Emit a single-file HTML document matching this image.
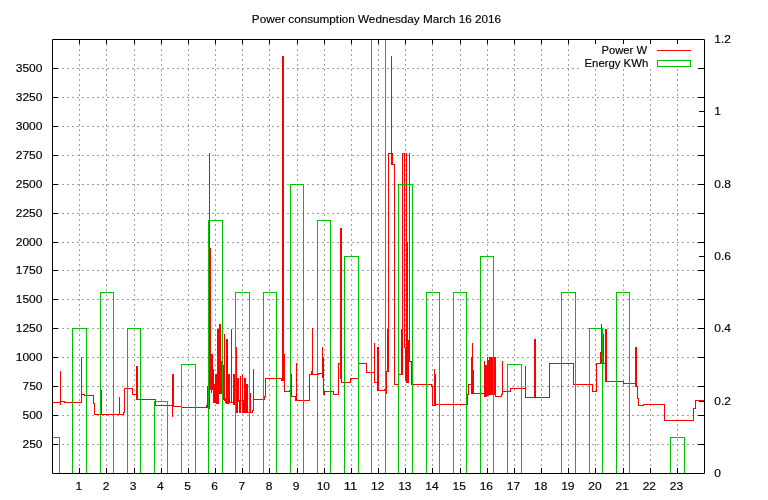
<!DOCTYPE html>
<html><head><meta charset="utf-8"><style>
html,body{margin:0;padding:0;background:#fff;width:768px;height:500px;overflow:hidden}
svg{display:block;will-change:transform}
</style></head><body>
<svg width="768" height="500" viewBox="0 0 768 500">
<rect width="768" height="500" fill="#fff"/>
<line x1="52" y1="444.5" x2="704" y2="444.5" stroke="#a0a0a0" stroke-width="1" stroke-dasharray="2 3" stroke-dashoffset="-0"/>
<line x1="52" y1="415.5" x2="704" y2="415.5" stroke="#a0a0a0" stroke-width="1" stroke-dasharray="2 3" stroke-dashoffset="-0"/>
<line x1="52" y1="386.5" x2="704" y2="386.5" stroke="#a0a0a0" stroke-width="1" stroke-dasharray="2 3" stroke-dashoffset="-0"/>
<line x1="52" y1="357.5" x2="704" y2="357.5" stroke="#a0a0a0" stroke-width="1" stroke-dasharray="2 3" stroke-dashoffset="-0"/>
<line x1="52" y1="328.5" x2="704" y2="328.5" stroke="#a0a0a0" stroke-width="1" stroke-dasharray="2 3" stroke-dashoffset="-0"/>
<line x1="52" y1="299.5" x2="704" y2="299.5" stroke="#a0a0a0" stroke-width="1" stroke-dasharray="2 3" stroke-dashoffset="-0"/>
<line x1="52" y1="270.5" x2="704" y2="270.5" stroke="#a0a0a0" stroke-width="1" stroke-dasharray="2 3" stroke-dashoffset="-0"/>
<line x1="52" y1="242.5" x2="704" y2="242.5" stroke="#a0a0a0" stroke-width="1" stroke-dasharray="2 3" stroke-dashoffset="-0"/>
<line x1="52" y1="213.5" x2="704" y2="213.5" stroke="#a0a0a0" stroke-width="1" stroke-dasharray="2 3" stroke-dashoffset="-0"/>
<line x1="52" y1="184.5" x2="704" y2="184.5" stroke="#a0a0a0" stroke-width="1" stroke-dasharray="2 3" stroke-dashoffset="-0"/>
<line x1="52" y1="155.5" x2="704" y2="155.5" stroke="#a0a0a0" stroke-width="1" stroke-dasharray="2 3" stroke-dashoffset="-0"/>
<line x1="52" y1="126.5" x2="704" y2="126.5" stroke="#a0a0a0" stroke-width="1" stroke-dasharray="2 3" stroke-dashoffset="-0"/>
<line x1="52" y1="97.5" x2="704" y2="97.5" stroke="#a0a0a0" stroke-width="1" stroke-dasharray="2 3" stroke-dashoffset="-0"/>
<line x1="52" y1="68.5" x2="704" y2="68.5" stroke="#a0a0a0" stroke-width="1" stroke-dasharray="2 3" stroke-dashoffset="-0"/>
<line x1="79.5" y1="39" x2="79.5" y2="473" stroke="#a0a0a0" stroke-width="1" stroke-dasharray="2 3" stroke-dashoffset="-0"/>
<line x1="106.5" y1="39" x2="106.5" y2="473" stroke="#a0a0a0" stroke-width="1" stroke-dasharray="2 3" stroke-dashoffset="-0"/>
<line x1="134.5" y1="39" x2="134.5" y2="473" stroke="#a0a0a0" stroke-width="1" stroke-dasharray="2 3" stroke-dashoffset="-0"/>
<line x1="161.5" y1="39" x2="161.5" y2="473" stroke="#a0a0a0" stroke-width="1" stroke-dasharray="2 3" stroke-dashoffset="-0"/>
<line x1="188.5" y1="39" x2="188.5" y2="473" stroke="#a0a0a0" stroke-width="1" stroke-dasharray="2 3" stroke-dashoffset="-0"/>
<line x1="215.5" y1="39" x2="215.5" y2="473" stroke="#a0a0a0" stroke-width="1" stroke-dasharray="2 3" stroke-dashoffset="-0"/>
<line x1="242.5" y1="39" x2="242.5" y2="473" stroke="#a0a0a0" stroke-width="1" stroke-dasharray="2 3" stroke-dashoffset="-0"/>
<line x1="269.5" y1="39" x2="269.5" y2="473" stroke="#a0a0a0" stroke-width="1" stroke-dasharray="2 3" stroke-dashoffset="-0"/>
<line x1="297.5" y1="39" x2="297.5" y2="473" stroke="#a0a0a0" stroke-width="1" stroke-dasharray="2 3" stroke-dashoffset="-0"/>
<line x1="324.5" y1="39" x2="324.5" y2="473" stroke="#a0a0a0" stroke-width="1" stroke-dasharray="2 3" stroke-dashoffset="-0"/>
<line x1="351.5" y1="39" x2="351.5" y2="473" stroke="#a0a0a0" stroke-width="1" stroke-dasharray="2 3" stroke-dashoffset="-0"/>
<line x1="378.5" y1="39" x2="378.5" y2="473" stroke="#a0a0a0" stroke-width="1" stroke-dasharray="2 3" stroke-dashoffset="-0"/>
<line x1="405.5" y1="39" x2="405.5" y2="473" stroke="#a0a0a0" stroke-width="1" stroke-dasharray="2 3" stroke-dashoffset="-0"/>
<line x1="432.5" y1="39" x2="432.5" y2="473" stroke="#a0a0a0" stroke-width="1" stroke-dasharray="2 3" stroke-dashoffset="-0"/>
<line x1="460.5" y1="39" x2="460.5" y2="473" stroke="#a0a0a0" stroke-width="1" stroke-dasharray="2 3" stroke-dashoffset="-0"/>
<line x1="487.5" y1="39" x2="487.5" y2="473" stroke="#a0a0a0" stroke-width="1" stroke-dasharray="2 3" stroke-dashoffset="-0"/>
<line x1="514.5" y1="39" x2="514.5" y2="473" stroke="#a0a0a0" stroke-width="1" stroke-dasharray="2 3" stroke-dashoffset="-0"/>
<line x1="541.5" y1="39" x2="541.5" y2="473" stroke="#a0a0a0" stroke-width="1" stroke-dasharray="2 3" stroke-dashoffset="-0"/>
<line x1="568.5" y1="39" x2="568.5" y2="473" stroke="#a0a0a0" stroke-width="1" stroke-dasharray="2 3" stroke-dashoffset="-0"/>
<line x1="595.5" y1="39" x2="595.5" y2="473" stroke="#a0a0a0" stroke-width="1" stroke-dasharray="2 3" stroke-dashoffset="-0"/>
<line x1="623.5" y1="39" x2="623.5" y2="473" stroke="#a0a0a0" stroke-width="1" stroke-dasharray="2 3" stroke-dashoffset="-0"/>
<line x1="650.5" y1="39" x2="650.5" y2="473" stroke="#a0a0a0" stroke-width="1" stroke-dasharray="2 3" stroke-dashoffset="-0"/>
<line x1="677.5" y1="39" x2="677.5" y2="473" stroke="#a0a0a0" stroke-width="1" stroke-dasharray="2 3" stroke-dashoffset="-0"/>
<path d="M52,402h9v1h-9zM60,371h1v32h-1zM60,371h1v34h-1zM60,401h1v4h-1zM60,401h5v1h-5zM64,401h1v2h-1zM64,402h18v1h-18zM81,357h1v46h-1zM81,357h1v38h-1zM81,394h4v1h-4zM84,394h1v2h-1zM84,395h10v1h-10zM93,395h1v9h-1zM93,403h2v1h-2zM94,403h1v12h-1zM94,414h8v1h-8zM101,390h1v25h-1zM101,390h1v25h-1zM101,414h19v1h-19zM119,397h1v18h-1zM119,397h1v18h-1zM119,414h5v1h-5zM123,412h1v3h-1zM123,412h2v1h-2zM124,388h1v25h-1zM124,388h9v1h-9zM132,388h1v7h-1zM132,394h5v1h-5zM136,366h1v29h-1zM136,366h1v34h-1zM136,399h2v1h-2zM137,366h1v34h-1zM137,366h1v34h-1zM137,399h19v1h-19zM155,399h1v7h-1zM155,405h18v1h-18zM172,374h1v32h-1zM172,374h1v43h-1zM172,406h1v11h-1zM172,406h2v1h-2zM173,374h1v33h-1zM173,374h1v33h-1zM173,406h9v1h-9zM181,406h1v2h-1zM181,407h27v1h-27zM253,399h12v1h-12zM264,396h1v4h-1zM264,396h2v1h-2zM265,378h1v19h-1zM265,378h17v1h-17zM281,378h1v3h-1zM281,380h2v1h-2zM282,56h1v325h-1zM282,56h1v325h-1zM282,380h2v1h-2zM283,56h1v325h-1zM283,56h1v299h-1zM283,354h2v1h-2zM284,354h1v38h-1zM284,391h6v1h-6zM289,390h1v2h-1zM289,390h3v1h-3zM291,374h1v17h-1zM291,374h1v23h-1zM291,396h5v1h-5zM295,396h1v5h-1zM295,400h2v1h-2zM296,363h1v38h-1zM296,363h1v38h-1zM296,400h14v1h-14zM309,374h1v27h-1zM309,374h3v1h-3zM311,371h1v4h-1zM311,371h2v1h-2zM312,328h1v44h-1zM312,328h1v47h-1zM312,374h7v1h-7zM318,373h1v2h-1zM318,373h5v1h-5zM322,347h1v27h-1zM322,347h1v31h-1zM322,377h2v1h-2zM323,357h1v21h-1zM323,357h1v38h-1zM323,394h2v1h-2zM324,391h1v4h-1zM324,391h10v1h-10zM333,391h1v4h-1zM333,394h6v1h-6zM338,363h1v32h-1zM338,363h3v1h-3zM340,228h1v136h-1zM340,228h1v151h-1zM340,378h2v1h-2zM341,228h1v151h-1zM341,228h1v155h-1zM341,382h10v1h-10zM350,378h1v5h-1zM350,378h9v1h-9zM358,363h1v16h-1zM358,363h9v1h-9zM366,363h1v10h-1zM366,372h9v1h-9zM374,343h1v30h-1zM374,343h1v40h-1zM374,382h4v1h-4zM377,347h1v36h-1zM377,347h1v44h-1zM377,390h2v1h-2zM378,347h1v44h-1zM378,347h1v44h-1zM378,390h7v1h-7zM384,389h1v2h-1zM384,389h2v1h-2zM385,389h1v5h-1zM385,393h2v1h-2zM386,371h1v23h-1zM386,371h2v1h-2zM387,329h1v43h-1zM387,329h1v43h-1zM387,371h2v1h-2zM388,153h1v219h-1zM388,153h4v1h-4zM391,56h1v98h-1zM391,56h1v109h-1zM391,164h2v1h-2zM392,153h1v12h-1zM392,153h1v12h-1zM392,164h3v1h-3zM394,164h1v221h-1zM394,384h5v1h-5zM398,374h1v11h-1zM398,374h4v1h-4zM401,329h1v46h-1zM401,329h1v46h-1zM401,374h2v1h-2zM402,153h1v222h-1zM411,384h21v1h-21zM431,384h1v3h-1zM431,386h2v1h-2zM432,386h1v20h-1zM432,405h3v1h-3zM434,369h1v37h-1zM434,369h1v37h-1zM434,405h2v1h-2zM435,374h1v32h-1zM435,374h1v31h-1zM435,404h33v1h-33zM467,394h1v11h-1zM467,394h2v1h-2zM468,384h1v11h-1zM468,384h4v1h-4zM471,357h1v28h-1zM471,357h1v37h-1zM471,393h2v1h-2zM472,343h1v51h-1zM472,343h1v51h-1zM472,393h2v1h-2zM473,370h1v24h-1zM473,370h1v24h-1zM473,393h12v1h-12zM495,396h7v1h-7zM501,394h1v3h-1zM501,394h2v1h-2zM502,361h1v34h-1zM502,361h1v31h-1zM502,391h9v1h-9zM510,388h1v4h-1zM510,388h16v1h-16zM525,366h1v23h-1zM525,366h1v32h-1zM525,397h10v1h-10zM534,339h1v59h-1zM534,339h1v59h-1zM534,397h2v1h-2zM535,339h1v59h-1zM535,339h1v59h-1zM535,397h15v1h-15zM549,363h1v35h-1zM549,363h25v1h-25zM573,363h1v22h-1zM573,384h20v1h-20zM592,384h1v8h-1zM592,391h5v1h-5zM596,363h1v29h-1zM596,363h5v1h-5zM600,352h1v12h-1zM600,352h2v1h-2zM601,324h1v29h-1zM601,324h1v40h-1zM601,363h2v1h-2zM602,334h1v30h-1zM602,334h2v1h-2zM603,334h1v30h-1zM603,363h3v1h-3zM605,329h1v35h-1zM605,329h1v53h-1zM605,381h2v1h-2zM606,329h1v53h-1zM606,329h1v53h-1zM606,381h18v1h-18zM623,381h1v3h-1zM623,383h13v1h-13zM635,347h1v37h-1zM635,347h1v40h-1zM635,386h2v1h-2zM636,347h1v40h-1zM636,347h1v40h-1zM636,386h2v1h-2zM637,386h1v13h-1zM637,398h2v1h-2zM638,398h1v8h-1zM638,405h6v1h-6zM643,404h1v2h-1zM643,404h22v1h-22zM664,404h1v17h-1zM664,420h30v1h-30zM693,408h1v13h-1zM693,408h3v1h-3zM695,400h1v9h-1zM695,400h10v1h-10zM207,386h1v22h-1zM208,386h1v22h-1zM209,153h1v256h-1zM210,248h1v142h-1zM211,354h1v39h-1zM212,354h1v36h-1zM213,369h1v34h-1zM214,384h1v19h-1zM215,374h1v29h-1zM216,374h1v30h-1zM217,329h1v75h-1zM218,329h1v75h-1zM219,324h1v70h-1zM220,324h1v70h-1zM221,361h1v33h-1zM222,393h1v7h-1zM223,365h1v35h-1zM224,334h1v67h-1zM225,398h1v5h-1zM226,339h1v65h-1zM227,339h1v65h-1zM228,374h1v30h-1zM229,374h1v29h-1zM230,402h1v1h-1zM231,329h1v74h-1zM232,402h1v1h-1zM233,374h1v31h-1zM234,374h1v31h-1zM235,347h1v66h-1zM236,347h1v66h-1zM237,378h1v35h-1zM238,378h1v24h-1zM239,400h1v13h-1zM240,376h1v37h-1zM241,400h1v1h-1zM242,374h1v39h-1zM243,400h1v13h-1zM244,378h1v35h-1zM245,378h1v35h-1zM246,384h1v29h-1zM247,384h1v29h-1zM248,412h1v1h-1zM249,393h1v20h-1zM250,393h1v20h-1zM251,412h1v1h-1zM252,410h1v3h-1zM253,369h1v42h-1zM402,153h1v210h-1zM403,153h1v1h-1zM404,153h1v195h-1zM405,347h1v34h-1zM406,153h1v230h-1zM407,242h1v141h-1zM408,340h1v43h-1zM409,153h1v209h-1zM410,361h1v1h-1zM411,361h1v24h-1zM484,361h1v36h-1zM485,365h1v32h-1zM486,365h1v32h-1zM487,357h1v39h-1zM488,360h1v36h-1zM489,357h1v38h-1zM490,357h1v38h-1zM491,357h1v38h-1zM492,357h1v38h-1zM493,357h1v38h-1zM494,357h1v38h-1zM495,357h1v40h-1zM206,405h1v3h-1z" fill="#ff0000"/>
<path d="M52,437h8v1h-8zM59,437h1v36h-1zM72,328h1v145h-1zM72,328h15v1h-15zM86,328h1v145h-1zM100,292h1v181h-1zM100,292h14v1h-14zM113,292h1v181h-1zM127,328h1v145h-1zM127,328h14v1h-14zM140,328h1v145h-1zM154,401h1v72h-1zM154,401h14v1h-14zM167,401h1v72h-1zM181,364h1v109h-1zM181,364h15v1h-15zM195,364h1v109h-1zM208,220h1v253h-1zM208,220h15v1h-15zM222,220h1v253h-1zM235,292h1v181h-1zM235,292h15v1h-15zM249,292h1v181h-1zM263,292h1v181h-1zM263,292h14v1h-14zM276,292h1v181h-1zM290,184h1v289h-1zM290,184h14v1h-14zM303,184h1v289h-1zM317,220h1v253h-1zM317,220h14v1h-14zM330,220h1v253h-1zM344,256h1v217h-1zM344,256h15v1h-15zM358,256h1v217h-1zM371,39h1v434h-1zM385,39h1v434h-1zM398,184h1v289h-1zM398,184h15v1h-15zM412,184h1v289h-1zM426,292h1v181h-1zM426,292h14v1h-14zM439,292h1v181h-1zM453,292h1v181h-1zM453,292h14v1h-14zM466,292h1v181h-1zM480,256h1v217h-1zM480,256h14v1h-14zM493,256h1v217h-1zM507,364h1v109h-1zM507,364h15v1h-15zM521,364h1v109h-1zM561,292h1v181h-1zM561,292h15v1h-15zM575,292h1v181h-1zM589,328h1v145h-1zM589,328h14v1h-14zM602,328h1v145h-1zM616,292h1v181h-1zM616,292h14v1h-14zM629,292h1v181h-1zM670,437h1v36h-1zM670,437h15v1h-15zM684,437h1v36h-1z" fill="#00c000"/>
<rect x="581" y="40" width="123" height="29" fill="#fff"/>
<path d="M52.5,39.5 H704.5 V473.5 H52.5 Z" fill="none" stroke="#000" stroke-width="1"/>
<path d="M52,444.5 h6 M704,444.5 h-6 M52,415.5 h6 M704,415.5 h-6 M52,386.5 h6 M704,386.5 h-6 M52,357.5 h6 M704,357.5 h-6 M52,328.5 h6 M704,328.5 h-6 M52,299.5 h6 M704,299.5 h-6 M52,270.5 h6 M704,270.5 h-6 M52,242.5 h6 M704,242.5 h-6 M52,213.5 h6 M704,213.5 h-6 M52,184.5 h6 M704,184.5 h-6 M52,155.5 h6 M704,155.5 h-6 M52,126.5 h6 M704,126.5 h-6 M52,97.5 h6 M704,97.5 h-6 M52,68.5 h6 M704,68.5 h-6 M79.5,473 v-5 M79.5,39 v5 M106.5,473 v-5 M106.5,39 v5 M134.5,473 v-5 M134.5,39 v5 M161.5,473 v-5 M161.5,39 v5 M188.5,473 v-5 M188.5,39 v5 M215.5,473 v-5 M215.5,39 v5 M242.5,473 v-5 M242.5,39 v5 M269.5,473 v-5 M269.5,39 v5 M297.5,473 v-5 M297.5,39 v5 M324.5,473 v-5 M324.5,39 v5 M351.5,473 v-5 M351.5,39 v5 M378.5,473 v-5 M378.5,39 v5 M405.5,473 v-5 M405.5,39 v5 M432.5,473 v-5 M432.5,39 v5 M460.5,473 v-5 M460.5,39 v5 M487.5,473 v-5 M487.5,39 v5 M514.5,473 v-5 M514.5,39 v5 M541.5,473 v-5 M541.5,39 v5 M568.5,473 v-5 M568.5,39 v5 M595.5,473 v-5 M595.5,39 v5 M623.5,473 v-5 M623.5,39 v5 M650.5,473 v-5 M650.5,39 v5 M677.5,473 v-5 M677.5,39 v5 M704,401.5 h-5 M704,328.5 h-5 M704,256.5 h-5 M704,184.5 h-5 M704,111.5 h-5" stroke="#000" stroke-width="1" fill="none"/>
<g font-family="'Liberation Sans', sans-serif" font-size="11" fill="#000" stroke="#000" stroke-width="0.15"><text x="42.50" y="448.00" text-anchor="end" textLength="20.04" lengthAdjust="spacingAndGlyphs">250</text><text x="42.50" y="419.00" text-anchor="end" textLength="20.04" lengthAdjust="spacingAndGlyphs">500</text><text x="42.50" y="390.00" text-anchor="end" textLength="20.04" lengthAdjust="spacingAndGlyphs">750</text><text x="42.50" y="361.00" text-anchor="end" textLength="26.72" lengthAdjust="spacingAndGlyphs">1000</text><text x="42.50" y="332.00" text-anchor="end" textLength="26.72" lengthAdjust="spacingAndGlyphs">1250</text><text x="42.50" y="303.00" text-anchor="end" textLength="26.72" lengthAdjust="spacingAndGlyphs">1500</text><text x="42.50" y="274.00" text-anchor="end" textLength="26.72" lengthAdjust="spacingAndGlyphs">1750</text><text x="42.50" y="246.00" text-anchor="end" textLength="26.72" lengthAdjust="spacingAndGlyphs">2000</text><text x="42.50" y="217.00" text-anchor="end" textLength="26.72" lengthAdjust="spacingAndGlyphs">2250</text><text x="42.50" y="188.00" text-anchor="end" textLength="26.72" lengthAdjust="spacingAndGlyphs">2500</text><text x="42.50" y="159.00" text-anchor="end" textLength="26.72" lengthAdjust="spacingAndGlyphs">2750</text><text x="42.50" y="130.00" text-anchor="end" textLength="26.72" lengthAdjust="spacingAndGlyphs">3000</text><text x="42.50" y="101.00" text-anchor="end" textLength="26.72" lengthAdjust="spacingAndGlyphs">3250</text><text x="42.50" y="72.00" text-anchor="end" textLength="26.72" lengthAdjust="spacingAndGlyphs">3500</text><text x="78.87" y="490.00" text-anchor="middle" textLength="6.68" lengthAdjust="spacingAndGlyphs">1</text><text x="106.03" y="490.00" text-anchor="middle" textLength="6.68" lengthAdjust="spacingAndGlyphs">2</text><text x="133.20" y="490.00" text-anchor="middle" textLength="6.68" lengthAdjust="spacingAndGlyphs">3</text><text x="160.37" y="490.00" text-anchor="middle" textLength="6.68" lengthAdjust="spacingAndGlyphs">4</text><text x="187.53" y="490.00" text-anchor="middle" textLength="6.68" lengthAdjust="spacingAndGlyphs">5</text><text x="214.70" y="490.00" text-anchor="middle" textLength="6.68" lengthAdjust="spacingAndGlyphs">6</text><text x="241.87" y="490.00" text-anchor="middle" textLength="6.68" lengthAdjust="spacingAndGlyphs">7</text><text x="269.03" y="490.00" text-anchor="middle" textLength="6.68" lengthAdjust="spacingAndGlyphs">8</text><text x="296.20" y="490.00" text-anchor="middle" textLength="6.68" lengthAdjust="spacingAndGlyphs">9</text><text x="323.37" y="490.00" text-anchor="middle" textLength="13.36" lengthAdjust="spacingAndGlyphs">10</text><text x="350.53" y="490.00" text-anchor="middle" textLength="13.36" lengthAdjust="spacingAndGlyphs">11</text><text x="377.70" y="490.00" text-anchor="middle" textLength="13.36" lengthAdjust="spacingAndGlyphs">12</text><text x="404.87" y="490.00" text-anchor="middle" textLength="13.36" lengthAdjust="spacingAndGlyphs">13</text><text x="432.03" y="490.00" text-anchor="middle" textLength="13.36" lengthAdjust="spacingAndGlyphs">14</text><text x="459.20" y="490.00" text-anchor="middle" textLength="13.36" lengthAdjust="spacingAndGlyphs">15</text><text x="486.37" y="490.00" text-anchor="middle" textLength="13.36" lengthAdjust="spacingAndGlyphs">16</text><text x="513.53" y="490.00" text-anchor="middle" textLength="13.36" lengthAdjust="spacingAndGlyphs">17</text><text x="540.70" y="490.00" text-anchor="middle" textLength="13.36" lengthAdjust="spacingAndGlyphs">18</text><text x="567.87" y="490.00" text-anchor="middle" textLength="13.36" lengthAdjust="spacingAndGlyphs">19</text><text x="595.03" y="490.00" text-anchor="middle" textLength="13.36" lengthAdjust="spacingAndGlyphs">20</text><text x="622.20" y="490.00" text-anchor="middle" textLength="13.36" lengthAdjust="spacingAndGlyphs">21</text><text x="649.37" y="490.00" text-anchor="middle" textLength="13.36" lengthAdjust="spacingAndGlyphs">22</text><text x="676.53" y="490.00" text-anchor="middle" textLength="13.36" lengthAdjust="spacingAndGlyphs">23</text><text x="714.30" y="477.00" text-anchor="start" textLength="6.68" lengthAdjust="spacingAndGlyphs">0</text><text x="714.30" y="405.00" text-anchor="start" textLength="16.70" lengthAdjust="spacingAndGlyphs">0.2</text><text x="714.30" y="332.00" text-anchor="start" textLength="16.70" lengthAdjust="spacingAndGlyphs">0.4</text><text x="714.30" y="260.00" text-anchor="start" textLength="16.70" lengthAdjust="spacingAndGlyphs">0.6</text><text x="714.30" y="188.00" text-anchor="start" textLength="16.70" lengthAdjust="spacingAndGlyphs">0.8</text><text x="714.30" y="115.00" text-anchor="start" textLength="6.68" lengthAdjust="spacingAndGlyphs">1</text><text x="714.30" y="43.00" text-anchor="start" textLength="16.70" lengthAdjust="spacingAndGlyphs">1.2</text><text x="647.00" y="54.00" text-anchor="end" textLength="45.47" lengthAdjust="spacingAndGlyphs">Power W</text><text x="648.20" y="67.00" text-anchor="end" textLength="63.65" lengthAdjust="spacingAndGlyphs">Energy KWh</text><text x="376.50" y="23.00" text-anchor="middle" textLength="249.30" lengthAdjust="spacingAndGlyphs">Power consumption Wednesday March 16 2016</text></g>
<path d="M657,50.5 H691" stroke="#ff0000" stroke-width="1"/>
<rect x="657.5" y="60.5" width="33" height="6" fill="none" stroke="#00c000" stroke-width="1"/>
</svg>
</body></html>
